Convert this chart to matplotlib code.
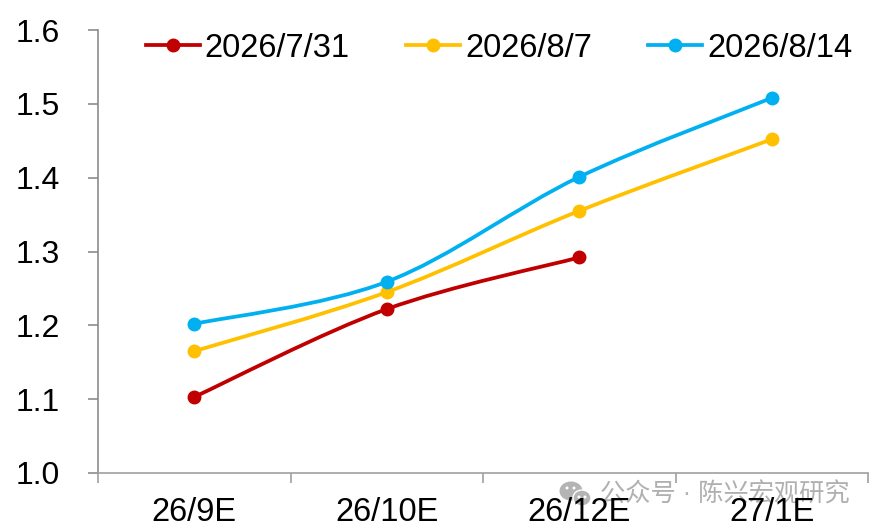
import numpy as np
import matplotlib
matplotlib.use("Agg")
import matplotlib.pyplot as plt
from matplotlib.path import Path
from matplotlib.patches import PathPatch, Ellipse

categories = ['26/9E', '26/10E', '26/12E', '27/1E']
dates = ['2026/7/31', '2026/8/7', '2026/8/14']
series_0731 = [1.103, 1.222, 1.292]
series_0807 = [1.165, 1.245, 1.355, 1.452]
series_0814 = [1.202, 1.259, 1.401, 1.508]
colors = ['#C00000', '#FFC000', '#00B0F0']
y_ticks = [1.0, 1.1, 1.2, 1.3, 1.4, 1.5, 1.6]

plt.rcParams['font.family'] = ['Liberation Sans', 'Noto Sans CJK SC', 'DejaVu Sans']


def smooth_line(ax, x, y, color):
    # excel style smoothed line, catmull-rom turned into bezier pieces
    x = np.array(x, dtype=float)
    y = np.array(y, dtype=float)
    verts = [(x[0], y[0])]
    codes = [Path.MOVETO]
    for i in range(len(x) - 1):
        x0, y0 = (x[i - 1], y[i - 1]) if i > 0 else (x[i], y[i])
        x3, y3 = (x[i + 2], y[i + 2]) if i + 2 < len(x) else (x[i + 1], y[i + 1])
        verts.append((x[i] + (x[i + 1] - x0) / 6, y[i] + (y[i + 1] - y0) / 6))
        verts.append((x[i + 1] - (x3 - x[i]) / 6, y[i + 1] - (y3 - y[i]) / 6))
        verts.append((x[i + 1], y[i + 1]))
        codes += [Path.CURVE4] * 3
    ax.add_patch(PathPatch(Path(verts, codes), fc='none', ec=color, lw=2.7, capstyle='round', zorder=2))


def px_ellipse(fig, cx, cy, w, h, color, edge='none'):
    # watermark icon, positions in picture pixels from the top left
    fig.add_artist(Ellipse((cx / 876, 1 - cy / 529), w / 876, h / 529, transform=fig.transFigure,
                           fc=color, ec=edge, lw=1, zorder=-1))


fig = plt.figure(figsize=(8.76, 5.29), dpi=100)
ax = fig.add_axes([98 / 876, 1 - 473 / 529, (868 - 98) / 876, (473 - 30) / 529])
ax.patch.set_visible(False)

for values, color, label in zip([series_0731, series_0807, series_0814], colors, dates):
    xs = list(range(len(values)))
    smooth_line(ax, xs, values, color)
    ax.plot(xs, values, 'o', color=color, ms=9, zorder=3)
    # legend handle only
    ax.plot([], [], '-o', color=color, lw=2.7, ms=9, label=label)

ax.set_xlim(-0.5, 3.5)
ax.set_ylim(1.0, 1.6)
ax.set_yticks(y_ticks)
ax.set_yticklabels([f'{v:.1f}' for v in y_ticks], fontsize=23, color='black')
ax.set_xticks([-0.5, 0.5, 1.5, 2.5, 3.5])
ax.set_xticklabels([])
for i, c in enumerate(categories):
    ax.text(i, -0.09, c, transform=ax.get_xaxis_transform(), ha='center', va='center', fontsize=23.5, color='black')

for s in ['top', 'right']:
    ax.spines[s].set_visible(False)
ax.spines['left'].set_color('#8C8C8C')
ax.spines['bottom'].set_color('#A0A0A0')
ax.spines['left'].set_linewidth(1.2)
ax.spines['bottom'].set_linewidth(1.2)
ax.tick_params(axis='y', direction='out', length=7.2, width=1.2, color='#8C8C8C', pad=20)
ax.tick_params(axis='x', direction='out', length=7.2, width=1.2, color='#A0A0A0')

ax.legend(loc='center left', bbox_to_anchor=(48 / 770, 0.959), ncol=3, frameon=False, fontsize=23.5,
          handlelength=1.65, handletextpad=0.15, columnspacing=1.73, borderpad=0, borderaxespad=0,
          labelcolor='black')

fig.text(600 / 876, 1 - 494 / 529, '公众号 · 陈兴宏观研究', fontsize=18.2, color='#B0B0B0', ha='left', va='center', zorder=-1)
px_ellipse(fig, 571, 491, 23, 19, '#B4B4B4')
px_ellipse(fig, 582, 498, 18, 16, '#B4B4B4', edge='white')
for ex, ey in [(567, 488), (574, 488), (579, 497), (585, 497)]:
    px_ellipse(fig, ex, ey, 3, 3, 'white')

fig.savefig('out.png', dpi=100)
